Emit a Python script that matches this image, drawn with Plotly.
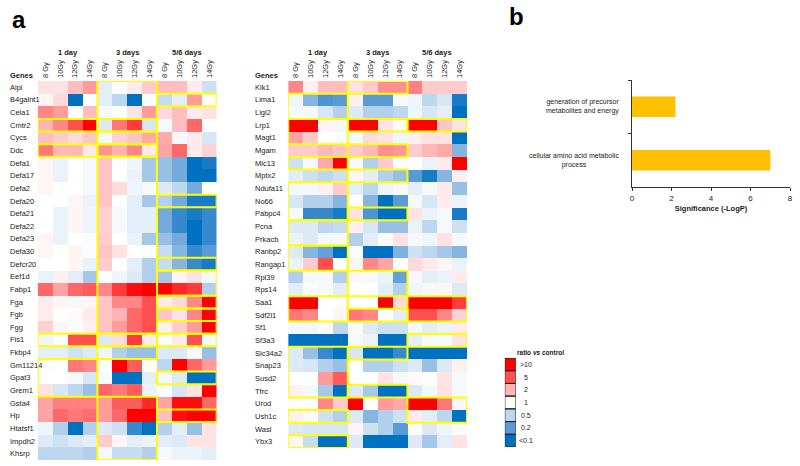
import numpy as np
import plotly.graph_objects as go

W, H = 800, 466
def px(x): return x / W
def py(y): return 1 - y / H

FONT = "Liberation Sans"
TXT = "#1a1a1a"

time_labels = ["1 day", "3 days", "5/6 days"]
dose_labels = ["8 Gy", "10Gy", "12Gy", "14Gy"]

left_genes = ["Alpi", "B4galnt1", "Cela1", "Cmtr2", "Cycs", "Ddc", "Defa1", "Defa17", "Defa2", "Defa20",
              "Defa21", "Defa22", "Defa23", "Defa30", "Defcr20", "Eef1d", "Fabp1", "Fga", "Fgb", "Fgg",
              "Fis1", "Fkbp4", "Gm11214", "Gpat3", "Grem1", "Gsta4", "Hp", "Htatsf1", "Impdh2", "Khsrp"]

left_1day = [[1.3, 1.3, 1.8, 2.5], [1.1, 1.4, 0.1, 1.0], [3.0, 2.5, 1.0, 1.8], [2.0, 3.0, 5.0, 10],
             [1.8, 1.6, 1.4, 1.7], [3.5, 1.9, 1.9, 1.2], [1.1, 0.8, 1.0, 0.9], [1.1, 0.8, 1.0, 0.9],
             [1.1, 1.0, 1.0, 0.9], [1.0, 1.0, 1.1, 0.8], [1.0, 0.8, 1.1, 0.85], [1.0, 0.8, 1.1, 0.85],
             [1.1, 0.8, 1.0, 0.95], [1.1, 1.0, 1.1, 0.95], [1.0, 1.0, 1.1, 0.8], [0.8, 1.15, 0.75, 0.4],
             [4.0, 2.3, 4.0, 4.5], [1.2, 1.1, 0.9, 1.1], [1.2, 1.0, 1.05, 1.2], [1.5, 1.1, 0.95, 1.15],
             [0.85, 1.0, 5.0, 5.0], [0.75, 0.75, 0.6, 0.7], [0.97, 1.0, 3.5, 3.0], [1.0, 1.0, 0.9, 0.65],
             [1.3, 0.65, 0.5, 0.35], [2.3, 3.2, 3.2, 3.2], [2.3, 4.0, 3.5, 3.8], [0.85, 0.45, 0.1, 0.45],
             [0.7, 0.6, 0.7, 0.75], [0.5, 0.5, 0.5, 0.45]]
left_3days = [[0.75, 1.0, 1.2, 1.6], [0.75, 0.5, 0.1, 1.0], [0.9, 1.0, 1.3, 2.5], [0.7, 3.5, 6.0, 0.65],
              [0.9, 1.5, 1.7, 2.2], [2.7, 2.0, 3.0, 1.2], [1.7, 0.95, 0.85, 0.4], [1.7, 1.0, 0.8, 0.4],
              [1.7, 1.4, 0.85, 0.9], [1.7, 1.0, 0.75, 0.4], [1.5, 0.9, 0.75, 0.75], [1.5, 0.9, 0.75, 0.75],
              [1.6, 1.0, 0.8, 0.4], [1.7, 1.3, 1.0, 0.95], [1.6, 1.0, 0.75, 0.45], [1.0, 0.85, 0.7, 0.45],
              [3.0, 6.0, 9.0, 10], [1.7, 3.0, 3.0, 5.0], [1.7, 2.0, 4.0, 5.0], [1.7, 2.5, 4.0, 5.0],
              [0.7, 1.4, 6.0, 1.2], [0.85, 0.45, 0.35, 0.35], [0.95, 10, 4.5, 1.0], [0.92, 0.1, 0.1, 0.75],
              [4.0, 3.5, 4.5, 0.8], [2.5, 4.5, 4.5, 7.0], [2.5, 4.0, 10, 10], [0.7, 0.6, 0.15, 0.1],
              [1.6, 1.1, 0.75, 0.8], [0.9, 0.55, 0.55, 0.45]]
left_56days = [[1.8, 1.8, 1.2, 0.6], [0.55, 0.75, 2.5, 1.0], [1.4, 1.8, 1.2, 1.3], [0.9, 1.8, 4.0, 1.0],
               [2.2, 0.9, 1.2, 0.65], [2.3, 4.0, 1.2, 1.5], [0.35, 0.25, 0.1, 0.12], [0.35, 0.25, 0.1, 0.1],
               [0.7, 0.5, 0.25, 1.0], [0.45, 0.25, 0.12, 0.12], [0.25, 0.15, 0.12, 0.15], [0.25, 0.15, 0.1, 0.15],
               [0.35, 0.25, 0.1, 0.15], [0.55, 0.3, 0.15, 0.2], [0.55, 0.3, 0.15, 0.12], [0.4, 1.1, 1.3, 0.9],
               [10, 7.0, 6.0, 0.45], [1.2, 1.4, 3.0, 10], [1.7, 1.3, 3.0, 10], [1.15, 1.6, 2.5, 10],
               [0.95, 1.2, 5.0, 0.9], [0.7, 0.7, 0.9, 0.35], [0.5, 10, 4.0, 2.5], [0.9, 0.7, 0.1, 0.1],
               [0.95, 0.65, 1.3, 10], [2.3, 9.0, 9.0, 4.0], [1.8, 9.0, 10, 10], [0.45, 0.75, 0.35, 1.3],
               [0.75, 0.7, 1.3, 1.3], [0.9, 0.8, 0.8, 0.75]]

right_genes = ["Klk1", "Lima1", "Ligl2", "Lrp1", "Magt1", "Mgam", "Mic13", "Mptx2", "Ndufa11", "No66",
               "Pabpc4", "Pcna", "Prkacb", "Ranbp2", "Rangap1", "Rpl39", "Rps14", "Saa1", "Sdf2l1", "Sf1",
               "Sf3a3", "Slc34a2", "Snap23", "Susd2", "Tfrc", "Urod", "Ush1c", "Wasl", "Ybx3"]

right_1day = [[3.0, 1.15, 1.8, 1.8], [0.85, 0.3, 0.18, 0.2], [0.9, 0.9, 0.65, 0.45], [10, 10, 1.1, 0.88],
              [2.3, 1.6, 1.0, 1.0], [1.6, 1.6, 1.9, 1.7], [0.6, 0.9, 2.2, 10], [0.75, 0.6, 0.5, 0.6],
              [0.88, 0.88, 1.15, 1.6], [0.65, 0.45, 0.45, 0.3], [0.92, 0.15, 0.15, 0.12], [0.7, 0.7, 0.5, 0.55],
              [0.8, 0.7, 0.88, 0.9], [0.7, 0.3, 0.22, 0.1], [0.8, 1.6, 5.0, 1.0], [0.45, 0.92, 0.92, 0.45],
              [0.75, 0.95, 0.9, 0.75], [10, 10, 1.0, 1.0], [3.5, 3.0, 1.0, 1.1], [0.88, 0.88, 1.05, 0.5],
              [0.1, 0.1, 0.1, 0.1], [0.7, 0.35, 0.15, 0.1], [0.7, 0.65, 0.45, 0.35], [1.0, 1.0, 2.5, 4.5],
              [1.15, 0.88, 0.4, 0.1], [1.0, 1.0, 3.0, 1.6], [1.15, 1.05, 0.6, 0.45], [0.7, 0.65, 0.65, 0.65],
              [1.1, 0.55, 0.1, 0.1]]
right_3days = [[1.3, 1.6, 2.8, 2.8], [1.15, 0.2, 0.2, 0.9], [0.7, 0.45, 0.45, 0.5], [10, 10, 1.3, 0.95],
               [0.9, 1.4, 1.3, 0.85], [1.6, 1.9, 2.8, 2.6], [0.9, 0.45, 1.6, 1.0], [1.1, 0.75, 0.45, 0.35],
               [0.75, 0.5, 0.85, 0.9], [1.02, 0.3, 0.1, 0.2], [1.3, 0.18, 0.1, 0.1], [1.15, 0.65, 0.35, 0.35],
               [0.45, 0.75, 1.05, 1.3], [0.95, 0.1, 0.1, 0.28], [1.1, 3.0, 2.3, 1.0], [1.08, 0.9, 0.8, 0.22],
               [1.0, 0.97, 0.75, 0.45], [1.0, 1.0, 10, 1.4], [3.5, 3.0, 1.0, 0.75], [1.05, 0.7, 0.6, 0.6],
               [0.9, 0.8, 0.1, 0.1], [0.65, 0.1, 0.1, 0.15], [1.0, 0.45, 0.45, 0.6], [1.0, 1.0, 1.3, 0.9],
               [0.7, 0.4, 0.1, 0.1], [10, 1.0, 2.5, 2.2], [0.7, 0.3, 0.45, 0.6], [1.1, 0.6, 0.45, 0.2],
               [0.7, 0.1, 0.1, 0.1]]
right_56days = [[3.2, 1.6, 1.6, 1.6], [0.85, 0.5, 0.65, 0.12], [0.85, 0.65, 0.75, 0.1], [10, 10, 1.7, 1.3],
                [1.15, 1.3, 1.3, 0.1], [1.6, 1.9, 2.2, 0.3], [1.0, 0.8, 1.2, 10], [0.2, 0.12, 0.3, 1.15],
                [0.75, 0.9, 1.2, 0.35], [0.9, 0.65, 1.2, 0.8], [1.3, 0.8, 0.9, 0.12], [0.8, 0.5, 0.9, 0.6],
                [0.9, 0.85, 1.3, 0.9], [0.6, 0.5, 0.4, 0.3], [1.4, 1.2, 1.1, 0.8], [0.9, 0.75, 0.8, 1.2],
                [0.85, 0.9, 1.1, 0.7], [10, 10, 10, 6.0], [5.0, 5.0, 3.0, 1.5], [0.9, 0.75, 0.8, 1.2],
                [0.75, 0.9, 0.9, 1.3], [0.1, 0.1, 0.1, 0.1], [0.7, 0.35, 0.7, 1.15], [1.05, 1.0, 1.3, 0.9],
                [0.7, 0.9, 1.3, 0.9], [10, 10, 3.5, 1.1], [1.2, 0.75, 0.5, 0.1], [0.95, 0.7, 0.85, 0.95],
                [0.7, 0.4, 0.75, 1.3]]

# highlighted (yellow-boxed) gene ranges per time point: (first row, last row)
left_boxes = {0: [(3, 3), (5, 5), (20, 20), (22, 24)],
              1: [(0, 2), (3, 3), (4, 4), (5, 5), (6, 19), (20, 20), (21, 21), (25, 29)],
              2: [(1, 1), (9, 9), (14, 14), (15, 16), (17, 17), (18, 18), (19, 19), (20, 20), (23, 23), (26, 26)]}
right_boxes = {0: [(1, 2), (3, 4), (6, 6), (8, 10), (11, 12), (13, 14), (17, 18), (21, 24), (26, 26), (28, 28)],
               1: [(0, 0), (3, 3), (5, 5), (7, 7), (10, 10), (15, 16), (18, 18), (21, 21), (24, 24)],
               2: [(3, 3), (17, 18), (20, 20), (25, 26)]}

legend_ratios = [10, 5, 2, 1, 0.5, 0.2, 0.1]
legend_labels = [">10", "5", "2", "1", "0.5", "0.2", "<0.1"]

bar_terms = ["generation of precursor metabolites and energy", "cellular amino acid metabolic process"]
bar_ticktext = ["generation of precursor<br>metabolites and energy", "cellular amino acid metabolic<br>process"]
bar_values = [2.2, 7.0]

colorscale = [[0, "#0070C0"], [0.15, "#5B9BD5"], [0.35, "#BDD7EE"], [0.5, "#FFFFFF"],
              [0.65, "#FFB3B3"], [0.85, "#FF5050"], [1, "#FF0000"]]

def zmat(a, b, c):
    r = np.hstack([np.array(a, float), np.array(b, float), np.array(c, float)])
    return np.log10(np.clip(r, 0.1, 10))

zL = zmat(left_1day, left_3days, left_56days)
zR = zmat(right_1day, right_3days, right_56days)
zLeg = np.log10(np.array(legend_ratios, float)).reshape(-1, 1)

fig = go.Figure()
hm = dict(colorscale=colorscale, zmin=-1, zmax=1, showscale=False, hoverinfo="skip")
fig.add_trace(go.Heatmap(z=zL, x=list(range(12)), y=list(range(len(left_genes))), xaxis="x", yaxis="y", **hm))
fig.add_trace(go.Heatmap(z=zR, x=list(range(12)), y=list(range(len(right_genes))), xaxis="x2", yaxis="y2", **hm))
fig.add_trace(go.Heatmap(z=zLeg, x=[0], y=list(range(len(legend_ratios))), xaxis="x3", yaxis="y3", **hm))
fig.add_trace(go.Bar(x=bar_values, y=bar_terms, orientation="h", marker=dict(color="#FFC000", line=dict(width=0)),
                     width=0.38, xaxis="x4", yaxis="y4", hoverinfo="skip"))

col_ticktext = dose_labels * 3
hx = dict(range=[-0.5, 11.5], side="top", tickmode="array", tickvals=list(range(12)), ticktext=col_ticktext,
          tickangle=-90, tickfont=dict(family=FONT, size=7.5, color=TXT), showgrid=False, zeroline=False,
          ticks="", showline=False, ticklabelstandoff=2)
hy = dict(showticklabels=False, showgrid=False, zeroline=False, ticks="", showline=False)

fig.update_layout(
    width=W, height=H, margin=dict(l=0, r=0, t=0, b=0),
    paper_bgcolor="white", plot_bgcolor="white", showlegend=False,
    xaxis=dict(domain=[px(36), px(216)], anchor="y", **hx),
    yaxis=dict(domain=[py(460), py(81)], range=[len(left_genes) - 0.5, -0.5], anchor="x", **hy),
    xaxis2=dict(domain=[px(288), px(468)], anchor="y2", **hx),
    yaxis2=dict(domain=[py(448), py(81)], range=[len(right_genes) - 0.5, -0.5], anchor="x2", **hy),
    xaxis3=dict(domain=[px(506), px(517)], range=[-0.5, 0.5], anchor="y3", visible=False),
    yaxis3=dict(domain=[py(447), py(358)], range=[len(legend_ratios) - 0.5, -0.5], anchor="x3", visible=False),
    xaxis4=dict(domain=[px(634), px(793)], range=[0, 8], dtick=2, anchor="y4", ticks="outside", ticklen=3,
                tickcolor="#333", showline=True, linecolor="#333", linewidth=1, showgrid=False, zeroline=False,
                tickfont=dict(family=FONT, size=8, color=TXT),
                title=dict(text="<b>Significance (-LogP)</b>", font=dict(family=FONT, size=7.5, color=TXT), standoff=4)),
    yaxis4=dict(domain=[py(187), py(80)], type="category", categoryorder="array",
                categoryarray=bar_terms[::-1], anchor="x4", ticks="outside", ticklen=3, tickson="boundaries",
                tickcolor="#333", showline=True, linecolor="#333", linewidth=1, showticklabels=False,
                showgrid=False, zeroline=False),
)

ann = []
shapes = []

def gene_labels(genes, xpos, yref):
    for i, g in enumerate(genes):
        ann.append(dict(text=g, x=px(xpos), xref="paper", xanchor="left", y=i, yref=yref, yanchor="middle",
                        showarrow=False, font=dict(family=FONT, size=7.5, color=TXT)))
    ann.append(dict(text="<b>Genes</b>", x=px(xpos), xref="paper", xanchor="left", y=py(76), yref="paper",
                    yanchor="middle", showarrow=False, font=dict(family=FONT, size=7.5, color=TXT)))

gene_labels(left_genes, 6, "y")
gene_labels(right_genes, 253, "y2")

for xr in ["x", "x2"]:
    for g, t in enumerate(time_labels):
        ann.append(dict(text="<b>" + t + "</b>", x=g * 4 + 1.5, xref=xr, xanchor="center", y=py(52), yref="paper",
                        yanchor="middle", showarrow=False, font=dict(family=FONT, size=7.5, color=TXT)))

def add_boxes(boxes, xr, yr):
    for g, ranges in boxes.items():
        for r0, r1 in ranges:
            shapes.append(dict(type="rect", xref=xr, yref=yr, x0=g * 4 - 0.5, x1=g * 4 + 3.5,
                               y0=r0 - 0.5, y1=r1 + 0.5, line=dict(color="#FFFF00", width=2),
                               fillcolor="rgba(0,0,0,0)", layer="above"))

add_boxes(left_boxes, "x", "y")
add_boxes(right_boxes, "x2", "y2")

for i, lab in enumerate(legend_labels):
    shapes.append(dict(type="rect", xref="x3", yref="y3", x0=-0.5, x1=0.5, y0=i - 0.5, y1=i + 0.5,
                       line=dict(color="#222", width=1), fillcolor="rgba(0,0,0,0)"))
    ann.append(dict(text=lab, x=px(527), xref="paper", xanchor="center", y=i, yref="y3", yanchor="middle",
                    showarrow=False, font=dict(family=FONT, size=7, color=TXT)))
ann.append(dict(text="<b>ratio <i>vs</i> control</b>", x=px(516), xref="paper", xanchor="left", y=py(352),
                yref="paper", yanchor="middle", showarrow=False, font=dict(family=FONT, size=6.5, color=TXT)))

aligns = ["right", "center"]
for t, lab, al in zip(bar_terms, bar_ticktext, aligns):
    ann.append(dict(text=lab, x=px(623), xref="paper", xanchor="right", y=t, yref="y4", yanchor="middle",
                    align=al, showarrow=False, font=dict(family=FONT, size=7, color=TXT)))

ann.append(dict(text="<b>a</b>", x=px(8), xref="paper", xanchor="left", y=py(19), yref="paper", yanchor="middle",
                showarrow=False, font=dict(family=FONT, size=24, color="#000")))
ann.append(dict(text="<b>b</b>", x=px(508), xref="paper", xanchor="left", y=py(16), yref="paper", yanchor="middle",
                showarrow=False, font=dict(family=FONT, size=24, color="#000")))

fig.update_layout(annotations=ann, shapes=shapes)
fig.write_html("out.html", config={"displayModeBar": False},
               post_script="document.body.style.margin='0';")
